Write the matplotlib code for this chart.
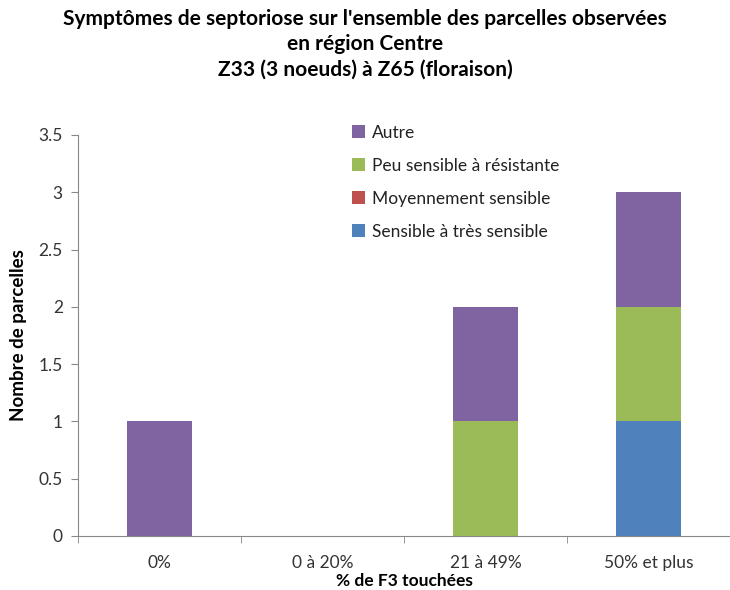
import matplotlib
matplotlib.use("Agg")
import matplotlib.pyplot as plt
import numpy as np

categories = ["0%", "0 à 20%", "21 à 49%", "50% et plus"]
series_names = ["Sensible à très sensible", "Moyennement sensible",
                "Peu sensible à résistante", "Autre"]
sensible = [0, 0, 0, 1]
moyen = [0, 0, 0, 0]
peu = [0, 0, 1, 1]
autre = [1, 0, 1, 1]
colors = ["#4F81BD", "#C0504D", "#9BBB59", "#8064A2"]
yticks = [0, 0.5, 1, 1.5, 2, 2.5, 3, 3.5]
ytick_labels = ["0", "0.5", "1", "1.5", "2", "2.5", "3", "3.5"]

plt.rcParams['font.family'] = ['Lato', 'DejaVu Sans']

fig = plt.figure(figsize=(7.3, 5.9), dpi=100)
ax = fig.add_axes([78/730, 54/590, 652/730, 401/590])

x = np.arange(len(categories))
bottom = np.zeros(len(categories))
handles = []
for name, vals, c in zip(series_names, [sensible, moyen, peu, autre], colors):
    h = ax.bar(x, vals, 0.4, bottom=bottom, color=c, label=name)
    handles.append(h)
    bottom += np.array(vals)

ax.set_xlim(-0.5, -0.5 + 652/164)
ax.set_ylim(0, 3.5)
ax.set_yticks(yticks)
ax.set_yticklabels(ytick_labels, fontsize=12.5, color="#333333")
ax.set_xticks(x)
ax.set_xticklabels(categories, fontsize=12.5, color="#333333")
ax.set_xticks(np.arange(-0.5, 4, 1), minor=True)
ax.tick_params(axis='x', which='major', length=0, pad=14)
ax.tick_params(axis='x', which='minor', length=5, color="#888888", direction='out')
ax.tick_params(axis='y', length=5, color="#888888", direction='out', pad=6)
for s in ["top", "right"]:
    ax.spines[s].set_visible(False)
for s in ["left", "bottom"]:
    ax.spines[s].set_color("#888888")

ax.set_xlabel("% de F3 touchées", fontsize=12.5, fontweight='bold', labelpad=1)
ax.set_ylabel("Nombre de parcelles", fontsize=13.5, fontweight='bold', labelpad=8)

fig.text(0.5, 1 - 9/590, "Symptômes de septoriose sur l'ensemble des parcelles observées\nen région Centre\nZ33 (3 noeuds) à Z65 (floraison)",
         ha='center', va='top', fontsize=15, fontweight='bold', linespacing=1.33)

leg = fig.legend(handles[::-1], series_names[::-1], loc='upper left',
                 bbox_to_anchor=(336/730, 1 - 109/590), frameon=False,
                 fontsize=12.5, handlelength=0.75, handleheight=0.75,
                 handletextpad=0.4, labelspacing=0.98)
for t in leg.get_texts():
    t.set_color("#222222")

fig.savefig("out.png", dpi=100)
